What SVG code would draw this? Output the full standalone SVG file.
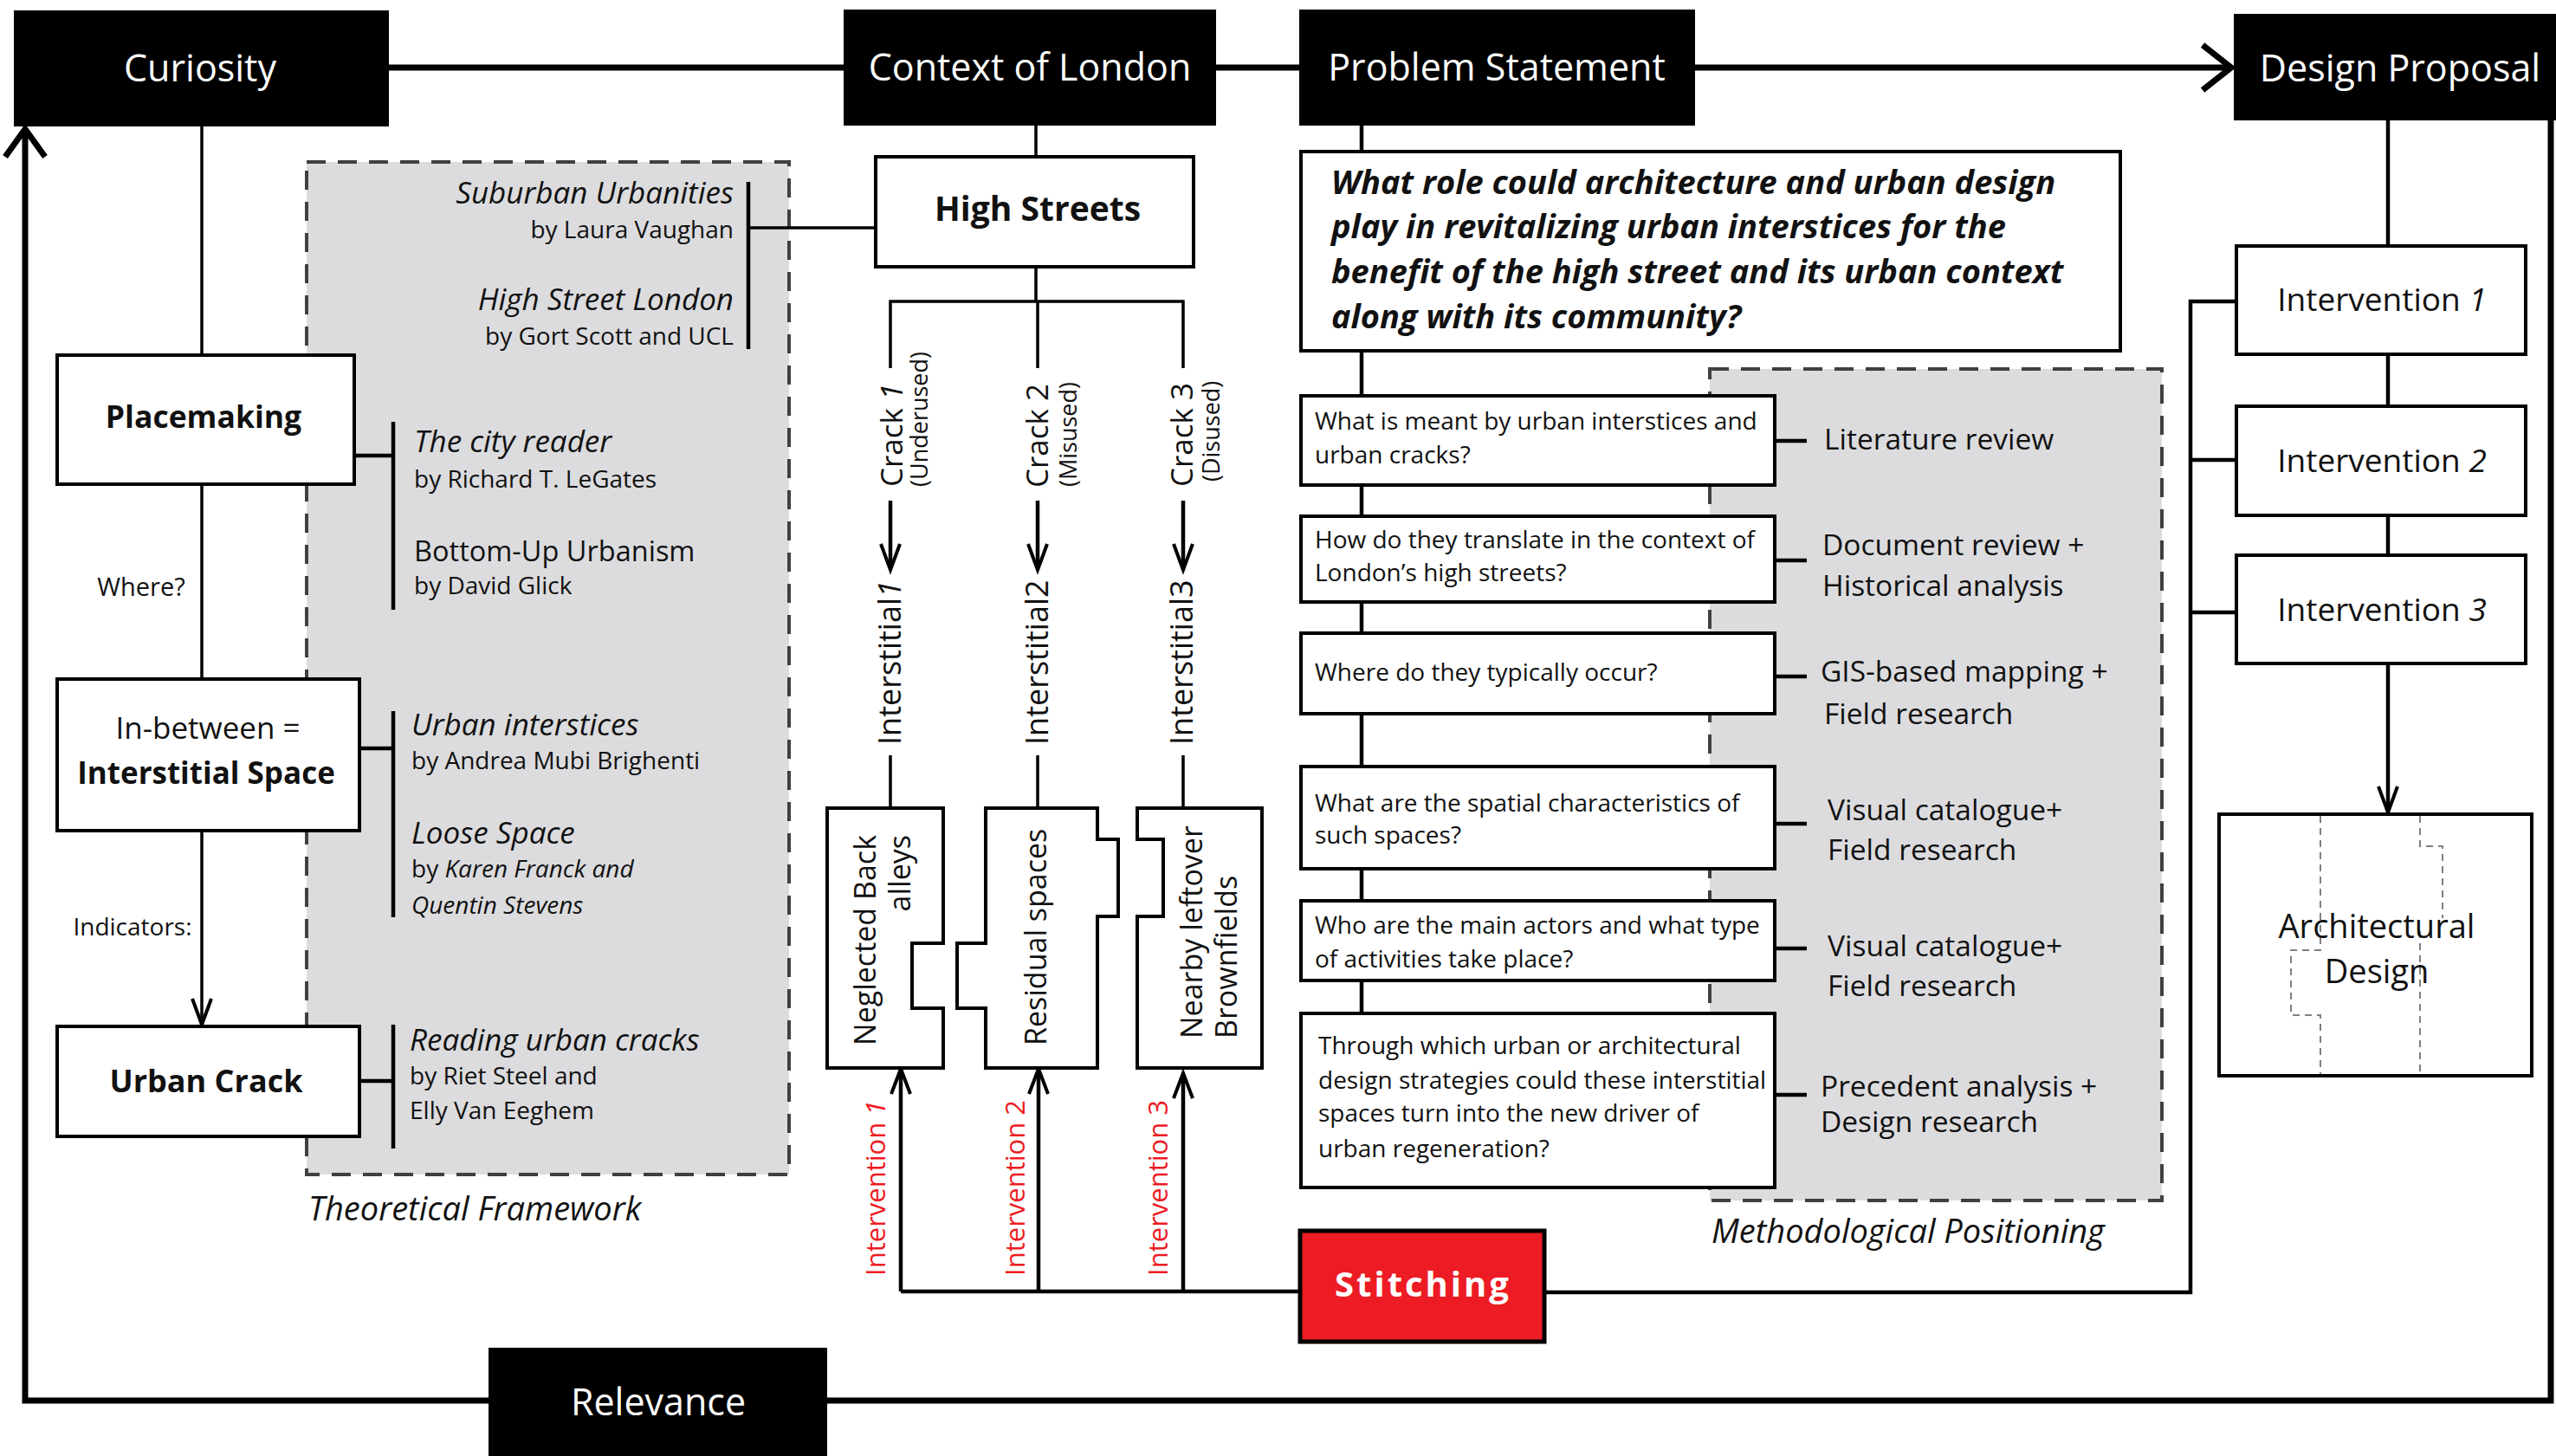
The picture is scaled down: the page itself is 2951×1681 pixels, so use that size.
<svg xmlns="http://www.w3.org/2000/svg" width="2951" height="1681" viewBox="0 0 2951 1681">
<style>
text{font-family:"Open Sans","Noto Sans","DejaVu Sans",sans-serif;fill:#111}
.title{font-size:43px;fill:#fff;text-anchor:middle}
.blk{fill:#000}
.box{fill:#fff;stroke:#000;stroke-width:4}
.panel{fill:#dcdcde;stroke:#404040;stroke-width:4;stroke-dasharray:22 14}
.thick{fill:none;stroke:#000;stroke-width:7}
.ln{fill:none;stroke:#000;stroke-width:3.5}
.ln4{fill:none;stroke:#000;stroke-width:4.5}
.head{fill:none;stroke:#000;stroke-width:4}
.ttl{font-size:35px;font-style:italic}
.by{font-size:28px}
.q{font-size:28px}
.m{font-size:33.5px}
.c{text-anchor:middle}
.r{text-anchor:end}
.b{font-weight:700}
.i{font-style:italic}
.red{fill:#ed1c24;font-size:31px}
.dot{fill:none;stroke:#808080;stroke-width:2;stroke-dasharray:8 6}
</style>

<g id="panels">
<rect id="theoretical-framework" class="panel" x="354" y="187" width="557" height="1169"/>
<rect id="methodological-positioning" class="panel" x="1974" y="426" width="522" height="960"/>
</g>

<g id="connectors">
<path class="thick" d="M449,78 H974 M1404,78 H1501 M1957,78 H2570"/>
<path class="thick" stroke-width="6" d="M2543,52 L2576,78 L2543,104"/>
<path class="thick" d="M29,152 V1617 H2945 V139"/>
<path class="thick" stroke-width="6" d="M6,181 L29,149 L52,181"/>
<path class="ln" d="M233,146 V410 M233,559 V784 M233,959 V1181"/>
<path class="head" d="M222,1153 L233,1183 L244,1153"/>
<path class="ln4" d="M409,526 H454 M415,864 H454 M415,1248 H454"/>
<path class="ln4" d="M454,487 V704 M454,821 V1059 M454,1183 V1326 M864,210 V403"/>
<path class="ln" d="M864,263 H1011 M1196,145 V181 M1196,308 V348 M1028,425 V348 H1366 V425 M1198,348 V425"/>
<path class="ln4" d="M1028,578 V655 M1198,578 V655 M1366,578 V655"/>
<path class="head" d="M1017,628 L1028,658 L1039,628 M1187,628 L1198,658 L1209,628 M1355,628 L1366,658 L1377,628"/>
<path class="ln" d="M1028,872 V933 M1198,872 V933 M1366,872 V933"/>
<path class="ln4" d="M1040,1491 V1236 M1199,1491 V1236 M1366,1491 V1241 M1040,1491 H1501"/>
<path class="head" d="M1029,1263 L1040,1234 L1051,1263 M1188,1263 L1199,1234 L1210,1263 M1355,1268 L1366,1239 L1377,1268"/>
<path class="ln4" d="M1783,1492 H2529 V348 H2582 M2529,531 H2582 M2529,707 H2582"/>
<path class="ln4" d="M2757,139 V284 M2757,409 V469 M2757,595 V641 M2757,766 V936"/>
<path class="head" d="M2746,908 L2757,938 L2768,908"/>
<path class="ln4" d="M1572,145 V1170"/>
<path class="ln4" d="M2049,509 H2086 M2049,647 H2086 M2049,781 H2086 M2049,951 H2086 M2049,1095 H2086 M2049,1264 H2086"/>
</g>

<g id="curiosity">
<rect class="blk" x="16" y="12" width="433" height="134"/>
<text class="title" x="231" y="94">Curiosity</text>
</g>
<g id="context-of-london">
<rect class="blk" x="974" y="11" width="430" height="134"/>
<text class="title" x="1189" y="93">Context of London</text>
</g>
<g id="problem-statement">
<rect class="blk" x="1500" y="11" width="457" height="134"/>
<text class="title" x="1728" y="93">Problem Statement</text>
</g>
<g id="design-proposal">
<rect class="blk" x="2579" y="16" width="372" height="123"/>
<text class="title" x="2771" y="94">Design Proposal</text>
</g>
<g id="relevance">
<rect class="blk" x="564" y="1556" width="391" height="125"/>
<text class="title" x="760" y="1634">Relevance</text>
</g>

<g id="literature-theory">
<text class="ttl r" x="847" y="235">Suburban Urbanities</text>
<text class="by r" x="847" y="275">by Laura Vaughan</text>
<text class="ttl r" x="847" y="358">High Street London</text>
<text class="by r" x="847" y="398">by Gort Scott and UCL</text>
<text class="ttl" x="478" y="522">The city reader</text>
<text class="by" x="478" y="563">by Richard T. LeGates</text>
<text x="478" y="648" font-size="32.5">Bottom-Up Urbanism</text>
<text class="by" x="478" y="686">by David Glick</text>
<text class="ttl" x="475" y="849">Urban interstices</text>
<text class="by" x="475" y="888">by Andrea Mubi Brighenti</text>
<text class="ttl" x="475" y="974">Loose Space</text>
<text class="by" x="475" y="1013">by <tspan class="i">Karen Franck and</tspan></text>
<text class="by i" x="475" y="1055">Quentin Stevens</text>
<text class="ttl" x="473" y="1213">Reading urban cracks</text>
<text class="by" x="473" y="1252">by Riet Steel and</text>
<text class="by" x="473" y="1292">Elly Van Eeghem</text>
<text class="i" x="356" y="1409" font-size="38">Theoretical Framework</text>
</g>

<g id="placemaking">
<rect class="box" x="66" y="410" width="343" height="149"/>
<text class="b c" x="235" y="494" font-size="35.5">Placemaking</text>
</g>
<text id="label-where" class="c" x="163" y="688" font-size="29">Where?</text>
<g id="interstitial-space">
<rect class="box" x="66" y="784" width="349" height="175"/>
<text class="c" x="240" y="853" font-size="35">In-between =</text>
<text class="b c" x="238" y="905" font-size="35">Interstitial Space</text>
</g>
<text id="label-indicators" class="c" x="153" y="1080" font-size="28">Indicators:</text>
<g id="urban-crack">
<rect class="box" x="66" y="1185" width="349" height="127"/>
<text class="b c" x="238" y="1261" font-size="36">Urban Crack</text>
</g>

<g id="high-streets">
<rect class="box" x="1011" y="181" width="367" height="127"/>
<text class="b c" x="1198" y="255" font-size="39">High Streets</text>
</g>

<g id="cracks">
<text transform="translate(1042,562) rotate(-90)" font-size="35">Crack <tspan class="i">1</tspan></text>
<text transform="translate(1071,562) rotate(-90)" font-size="27">(Underused)</text>
<text transform="translate(1210,563) rotate(-90)" font-size="35">Crack 2</text>
<text transform="translate(1243,562) rotate(-90)" font-size="27">(Misused)</text>
<text transform="translate(1377,562) rotate(-90)" font-size="35">Crack 3</text>
<text transform="translate(1408,556) rotate(-90)" font-size="27">(Disused)</text>
<text transform="translate(1040,860) rotate(-90)" font-size="36">Interstitial<tspan class="i">1</tspan></text>
<text transform="translate(1210,860) rotate(-90)" font-size="36">Interstitial2</text>
<text transform="translate(1377,860) rotate(-90)" font-size="36">Interstitial3</text>
</g>

<g id="neglected-back-alleys">
<path class="box" d="M955,933 H1089 V1089 H1053 V1164 H1089 V1233 H955 Z"/>
<text class="r" transform="translate(1011,964) rotate(-90)" font-size="34">Neglected Back</text>
<text class="r" transform="translate(1051,964) rotate(-90)" font-size="34">alleys</text>
</g>
<g id="residual-spaces">
<path class="box" d="M1138,933 H1267 V969 H1291 V1058 H1267 V1233 H1138 V1164 H1105 V1089 H1138 Z"/>
<text transform="translate(1208,1207) rotate(-90)" font-size="34">Residual spaces</text>
</g>
<g id="brownfields">
<path class="box" d="M1313,933 H1457 V1233 H1313 V1058 H1343 V969 H1313 Z"/>
<text transform="translate(1388,1199) rotate(-90)" font-size="34">Nearby leftover</text>
<text transform="translate(1428,1199) rotate(-90)" font-size="34">Brownfields</text>
</g>

<g id="intervention-labels">
<text class="red" transform="translate(1022,1473) rotate(-90)">Intervention <tspan class="i" style="fill:#ed1c24">1</tspan></text>
<text class="red" transform="translate(1183,1473) rotate(-90)">Intervention 2</text>
<text class="red" transform="translate(1348,1473) rotate(-90)">Intervention 3</text>
</g>

<g id="stitching">
<rect x="1501" y="1421" width="282" height="128" fill="#ed1c24" stroke="#000" stroke-width="5"/>
<text class="b c" x="1643" y="1497" font-size="40" letter-spacing="3" style="fill:#fff">Stitching</text>
</g>

<g id="research-question">
<rect class="box" x="1502" y="175" width="946" height="230" stroke-width="5"/>
<text class="b i" x="1537" y="224" font-size="38">What role could architecture and urban design</text>
<text class="b i" x="1537" y="275" font-size="38">play in revitalizing urban interstices for the</text>
<text class="b i" x="1537" y="327" font-size="38">benefit of the high street and its urban context</text>
<text class="b i" x="1537" y="379" font-size="38">along with its community?</text>
</g>

<g id="q1">
<rect class="box" x="1502" y="457" width="547" height="103"/>
<text class="q" x="1518" y="496">What is meant by urban interstices and</text>
<text class="q" x="1518" y="535">urban cracks?</text>
<text class="m" x="2106" y="519">Literature review</text>
</g>
<g id="q2">
<rect class="box" x="1502" y="596" width="547" height="99"/>
<text class="q" x="1518" y="633">How do they translate in the context of</text>
<text class="q" x="1518" y="671">London’s high streets?</text>
<text class="m" x="2104" y="641">Document review +</text>
<text class="m" x="2104" y="688">Historical analysis</text>
</g>
<g id="q3">
<rect class="box" x="1502" y="731" width="547" height="93"/>
<text class="q" x="1518" y="786">Where do they typically occur?</text>
<text class="m" x="2102" y="787">GIS-based mapping +</text>
<text class="m" x="2106" y="836">Field research</text>
</g>
<g id="q4">
<rect class="box" x="1502" y="885" width="547" height="118"/>
<text class="q" x="1518" y="937">What are the spatial characteristics of</text>
<text class="q" x="1518" y="974">such spaces?</text>
<text class="m" x="2110" y="947">Visual catalogue+</text>
<text class="m" x="2110" y="993">Field research</text>
</g>
<g id="q5">
<rect class="box" x="1502" y="1040" width="547" height="92"/>
<text class="q" x="1518" y="1078">Who are the main actors and what type</text>
<text class="q" x="1518" y="1117">of activities take place?</text>
<text class="m" x="2110" y="1104">Visual catalogue+</text>
<text class="m" x="2110" y="1150">Field research</text>
</g>
<g id="q6">
<rect class="box" x="1502" y="1170" width="547" height="201"/>
<text class="q" x="1522" y="1217">Through which urban or architectural</text>
<text class="q" x="1522" y="1257">design strategies could these interstitial</text>
<text class="q" x="1522" y="1295">spaces turn into the new driver of</text>
<text class="q" x="1522" y="1336">urban regeneration?</text>
<text class="m" x="2102" y="1266">Precedent analysis +</text>
<text class="m" x="2102" y="1307">Design research</text>
</g>
<text id="label-methodological" class="i" x="1976" y="1435" font-size="38">Methodological Positioning</text>

<g id="intervention-1">
<rect class="box" x="2582" y="284" width="334" height="125"/>
<text class="c" x="2750" y="359" font-size="37">Intervention <tspan class="i">1</tspan></text>
</g>
<g id="intervention-2">
<rect class="box" x="2582" y="469" width="334" height="126"/>
<text class="c" x="2750" y="545" font-size="37">Intervention <tspan class="i">2</tspan></text>
</g>
<g id="intervention-3">
<rect class="box" x="2582" y="641" width="334" height="125"/>
<text class="c" x="2750" y="717" font-size="37">Intervention <tspan class="i">3</tspan></text>
</g>

<g id="architectural-design">
<rect class="box" x="2562" y="940" width="361" height="302"/>
<path class="dot" d="M2679,942 V1097 H2645 V1172 H2679 V1240"/>
<path class="dot" d="M2794,942 V977 H2820 V1060 M2794,1075 V1240"/>
<text class="c" x="2744" y="1083" font-size="38">Architectural</text>
<text class="c" x="2744" y="1135" font-size="38">Design</text>
</g>
</svg>
